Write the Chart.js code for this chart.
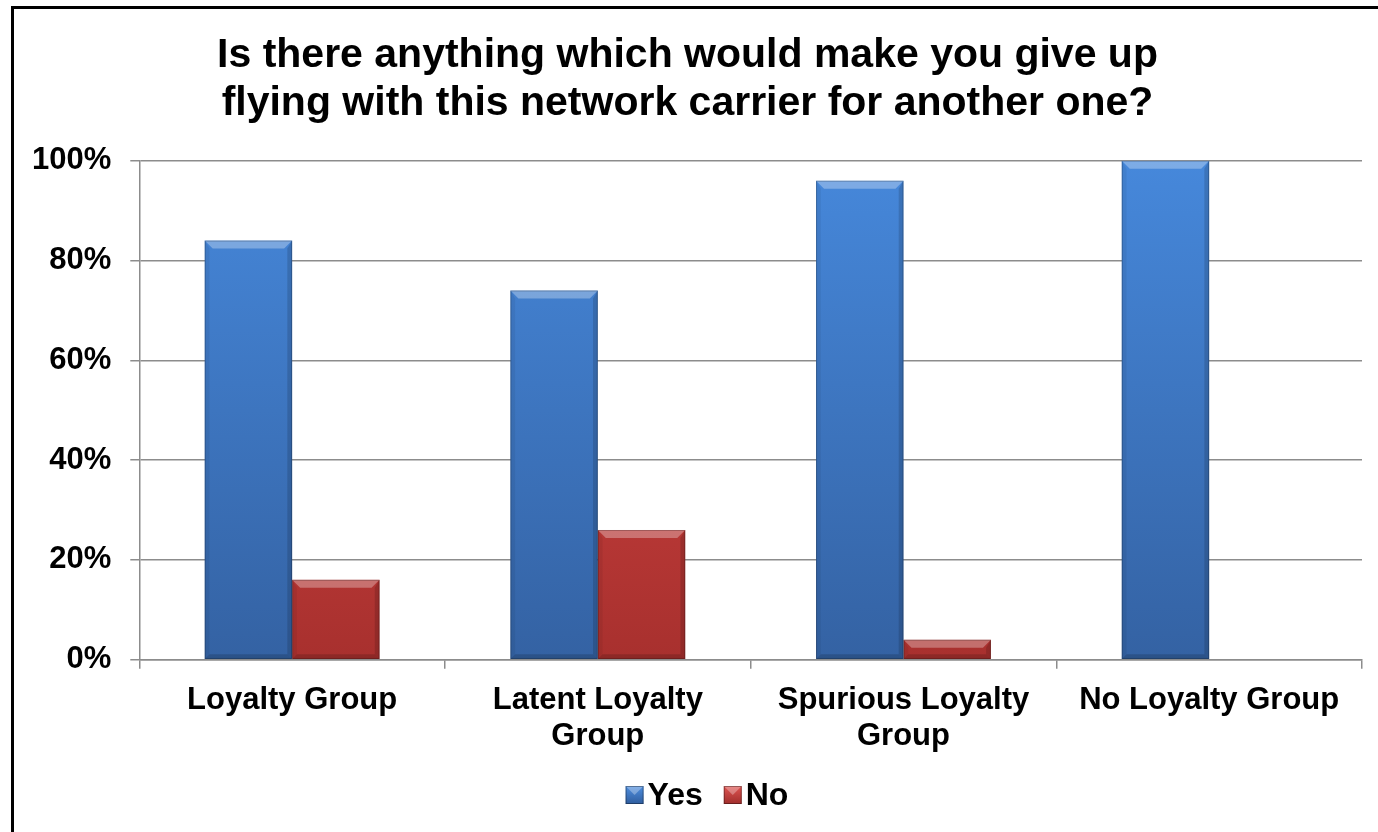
<!DOCTYPE html>
<html>
<head>
<meta charset="utf-8">
<script src="https://cdn.jsdelivr.net/npm/chart.js@4.4.1/dist/chart.umd.min.js"></script>
<style>
  html, body { margin: 0; padding: 0; background: #fff; overflow: hidden; }
  #wrap { position: relative; width: 1378px; height: 832px; }
</style>
</head>
<body>
<div id="wrap"><canvas id="chart"></canvas></div>
<script>
// survey answers per loyalty segment, in percent
const categories = [
  'Loyalty Group',
  ['Latent Loyalty', 'Group'],
  ['Spurious Loyalty', 'Group'],
  'No Loyalty Group'
];
const yesValues = [84, 74, 96, 100];
const noValues = [16, 26, 4, 0];
const tickLabels = ['0%', '20%', '40%', '60%', '80%', '100%'];

const FONT = "'Liberation Sans', Arial, sans-serif";
const AXIS_GREY = '#8c8c8c';

function barGradient(ctx, light, dark) {
  const area = ctx.chart.chartArea;
  if (!area) return light;
  const g = ctx.chart.ctx.createLinearGradient(0, area.top, 0, area.bottom);
  g.addColorStop(0, light);
  g.addColorStop(1, dark);
  return g;
}

// soft bevel on each bar: bright top edge, darker sides and bottom
const bevel = {
  id: 'bevel',
  afterDatasetsDraw(chart) {
    const c = chart.ctx;
    const b = 8;
    chart.data.datasets.forEach((ds, i) => {
      chart.getDatasetMeta(i).data.forEach((bar) => {
        const left = bar.x - bar.width / 2;
        const right = bar.x + bar.width / 2;
        const top = Math.min(bar.y, bar.base);
        const bottom = Math.max(bar.y, bar.base);
        const h = bottom - top;
        if (h < 1) return;
        const d = Math.min(b, h / 2);
        c.save();
        c.fillStyle = 'rgba(255,255,255,0.30)';
        c.beginPath();
        c.moveTo(left, top); c.lineTo(right, top);
        c.lineTo(right - d, top + d); c.lineTo(left + d, top + d);
        c.closePath(); c.fill();
        c.fillStyle = 'rgba(0,0,0,0.06)';
        c.beginPath();
        c.moveTo(left, top); c.lineTo(left + d * 0.6, top + d);
        c.lineTo(left + d * 0.6, bottom - d * 0.6); c.lineTo(left, bottom);
        c.closePath(); c.fill();
        c.fillStyle = 'rgba(0,0,0,0.14)';
        c.beginPath();
        c.moveTo(right, top); c.lineTo(right - d * 0.6, top + d);
        c.lineTo(right - d * 0.6, bottom - d * 0.6); c.lineTo(right, bottom);
        c.closePath(); c.fill();
        c.fillStyle = 'rgba(0,0,0,0.16)';
        c.beginPath();
        c.moveTo(left, bottom); c.lineTo(left + d * 0.6, bottom - d * 0.6);
        c.lineTo(right - d * 0.6, bottom - d * 0.6); c.lineTo(right, bottom);
        c.closePath(); c.fill();
        c.strokeStyle = 'rgba(0,0,0,0.22)';
        c.lineWidth = 1;
        c.strokeRect(left + 0.5, top + 0.5, right - left - 1, h - 1);
        c.restore();
      });
    });
  }
};

// frame around the whole chart and the small bevelled legend
const frameAndLegend = {
  id: 'frameAndLegend',
  afterDraw(chart) {
    const c = chart.ctx;
    c.save();
    c.strokeStyle = '#000';
    c.lineWidth = 3;
    c.beginPath();
    c.moveTo(12.5, chart.height + 5);
    c.lineTo(12.5, 7.5);
    c.lineTo(chart.width + 5, 7.5);
    c.stroke();

    const cy = 795;
    const box = 18;
    c.font = 'bold 32px ' + FONT;
    c.textBaseline = 'middle';
    const items = chart.data.datasets.map((ds) => ({
      label: ds.label, light: ds.legendLight, dark: ds.legendDark,
      w: box + 4 + c.measureText(ds.label).width
    }));
    const gap = 21;
    const total = items.reduce((s, it) => s + it.w, 0) + gap * (items.length - 1);
    let x = 707 - total / 2;
    items.forEach((it) => {
      const g = c.createLinearGradient(0, cy - box / 2, 0, cy + box / 2);
      g.addColorStop(0, it.light);
      g.addColorStop(1, it.dark);
      c.fillStyle = g;
      c.fillRect(x, cy - box / 2, box, box);
      c.fillStyle = 'rgba(255,255,255,0.3)';
      c.beginPath();
      c.moveTo(x, cy - box / 2); c.lineTo(x + box, cy - box / 2);
      c.lineTo(x + box / 2, cy); c.closePath(); c.fill();
      c.strokeStyle = 'rgba(0,0,0,0.35)';
      c.lineWidth = 1;
      c.strokeRect(x + 0.5, cy - box / 2 + 0.5, box - 1, box - 1);
      c.fillStyle = '#000';
      c.textAlign = 'left';
      c.fillText(it.label, x + box + 4, cy + 1);
      x += it.w + gap;
    });
    c.restore();
  }
};

new Chart(document.getElementById('chart'), {
  type: 'bar',
  data: {
    labels: categories,
    datasets: [
      {
        label: 'Yes',
        data: yesValues,
        backgroundColor: (ctx) => barGradient(ctx, '#4688db', '#3462a3'),
        legendLight: '#4f8fe0', legendDark: '#2f5d9e'
      },
      {
        label: 'No',
        data: noValues,
        backgroundColor: (ctx) => barGradient(ctx, '#dc4a47', '#a8302e'),
        legendLight: '#e05552', legendDark: '#a02e2c'
      }
    ]
  },
  plugins: [bevel, frameAndLegend],
  options: {
    responsive: true,
    maintainAspectRatio: false,
    animation: false,
    datasets: { bar: { categoryPercentage: 0.572, barPercentage: 1, borderWidth: 0 } },
    layout: { padding: { top: 21, left: 13, right: 16, bottom: 64 } },
    plugins: {
      legend: { display: false },
      tooltip: { enabled: false },
      title: {
        display: true,
        text: ['Is there anything which would make you give up', 'flying with this network carrier for another one?'],
        color: '#000',
        font: { family: FONT, size: 41, weight: 'bold', lineHeight: 1.18 },
        padding: { top: 10, bottom: 33 }
      }
    },
    scales: {
      x: {
        offset: true,
        grid: { offset: true, drawOnChartArea: false, drawTicks: true, tickLength: 9, color: AXIS_GREY, lineWidth: 1.5 },
        border: { color: AXIS_GREY, width: 1.5 },
        ticks: { color: '#000', padding: 14, maxRotation: 0, font: { family: FONT, size: 31, weight: 'bold', lineHeight: 1.15 } }
      },
      y: {
        min: 0,
        max: 100,
        grid: { color: AXIS_GREY, lineWidth: 1.5, tickLength: 9 },
        border: { color: AXIS_GREY, width: 1.5 },
        ticks: {
          stepSize: 20,
          padding: 19,
          color: '#000',
          font: { family: FONT, size: 31, weight: 'bold' },
          callback: (v, i) => tickLabels[i]
        }
      }
    }
  }
});
</script>
</body>
</html>
